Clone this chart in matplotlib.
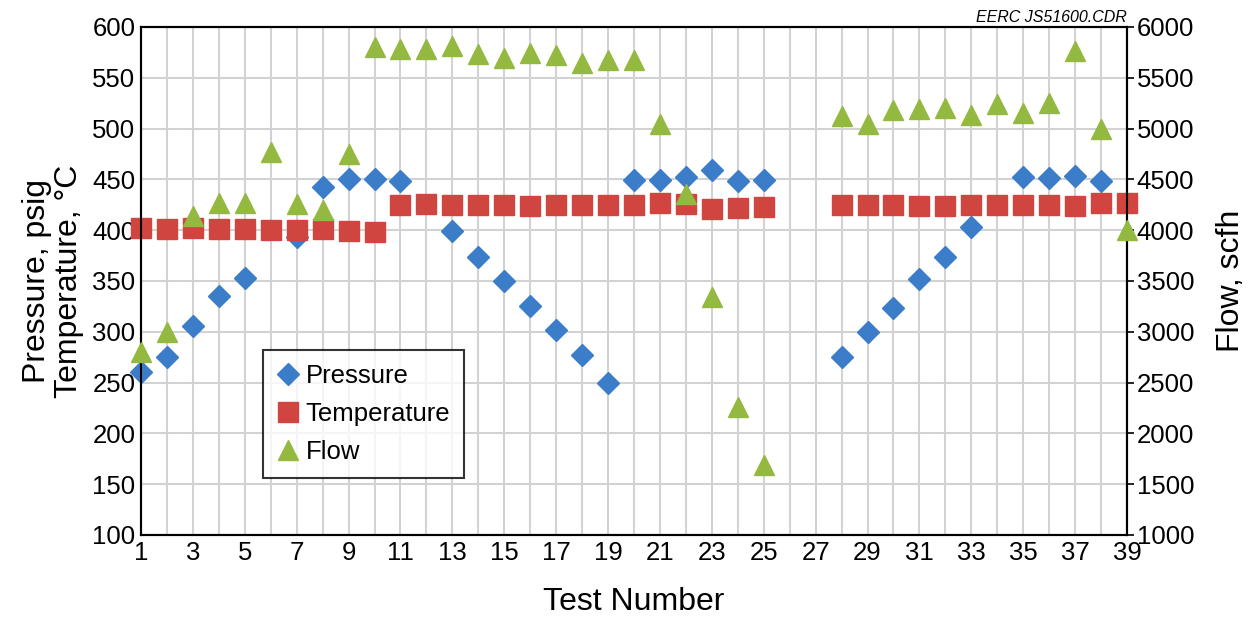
import numpy as np
import matplotlib.pyplot as plt

test = np.arange(1, 40)
nan = np.nan

pressure = [260, 275, 306, 335, 353, nan, 393, 443, 450, 450,
            448, nan, 399, 374, 350, 325, 302, 277, 250, 449,
            449, 452, 459, 448, 449, nan, nan, 275, 300, 323,
            352, 374, 403, nan, 452, 451, 453, 448, nan]

temperature = [402, 401, 402, 401, 401, 400, 400, 401, 399, 398,
               425, 426, 425, 425, 425, 424, 425, 425, 425, 425,
               427, 426, 421, 422, 423, nan, nan, 425, 425, 425,
               424, 424, 425, 425, 425, 425, 424, 427, 427]

flow = [2800, 3000, 4140, 4270, 4270, 4770, 4260, 4200, 4750, 5800,
        5780, 5780, 5810, 5730, 5690, 5740, 5720, 5650, 5680, 5680,
        5050, 4360, 3340, 2260, 1690, nan, nan, 5120, 5050, 5180,
        5190, 5200, 5130, 5240, 5150, 5250, 5760, 5000, 4000]

blue = '#3b7dc9'
red = '#d0453f'
green = '#93b941'

plt.rcParams['font.family'] = ['Liberation Sans', 'DejaVu Sans']

fig = plt.figure(figsize=(12.5, 6.22), dpi=100)
ax = fig.add_axes([0.1128, 0.1399, 0.7888, 0.8167])
ax2 = ax.twinx()

ax.plot(test, pressure, 'D', color=blue, markersize=11.5, label='Pressure', clip_on=False, zorder=3)
ax.plot(test, temperature, 's', color=red, markersize=14.5, label='Temperature', clip_on=False, zorder=4)
ax2.plot(test, flow, '^', color=green, markersize=14.5, label='Flow', clip_on=False, zorder=5)

ax.set_xlim(1, 39)
ax.set_ylim(100, 600)
ax2.set_ylim(1000, 6000)
ax.set_xticks(np.arange(1, 40, 2))
ax.set_xticks(np.arange(1, 40, 1), minor=True)
ax.set_yticks(np.arange(100, 601, 50))
ax2.set_yticks(np.arange(1000, 6001, 500))

ax.grid(True, which='both', axis='x', color='#d2d2d2', linewidth=1.5)
ax.grid(True, axis='y', color='#d2d2d2', linewidth=1.5)
ax.set_axisbelow(True)

ax.tick_params(axis='x', which='both', length=0, labelsize=18.5, pad=4)
ax.tick_params(axis='y', length=0, labelsize=18.5, pad=4)
ax2.tick_params(axis='y', length=5, width=1.2, labelsize=18.5, pad=2)

for a in (ax, ax2):
    for s in a.spines.values():
        s.set_linewidth(1.5)
        s.set_color('black')

ax.set_xlabel('Test Number', fontsize=23, labelpad=16)
ax.set_ylabel('Pressure, psig\nTemperature, °C', fontsize=23, labelpad=6, linespacing=1.1)
ax2.set_ylabel('Flow, scfh', fontsize=23, labelpad=16)

fig.text(0.9016, 0.972, 'EERC JS51600.CDR', ha='right', va='center', fontsize=11.5, style='italic')

h1, l1 = ax.get_legend_handles_labels()
h2, l2 = ax2.get_legend_handles_labels()
leg = ax2.legend(h1 + h2, l1 + l2, loc='lower left', bbox_to_anchor=(0.124, 0.112),
                 fontsize=18.5, frameon=True, fancybox=False, edgecolor='black',
                 handlelength=0.8, handletextpad=0.3, borderpad=0.55, labelspacing=0.55,
                 borderaxespad=0)
leg.get_frame().set_linewidth(1.5)
leg.set_zorder(10)

fig.savefig('out.png', dpi=100)
